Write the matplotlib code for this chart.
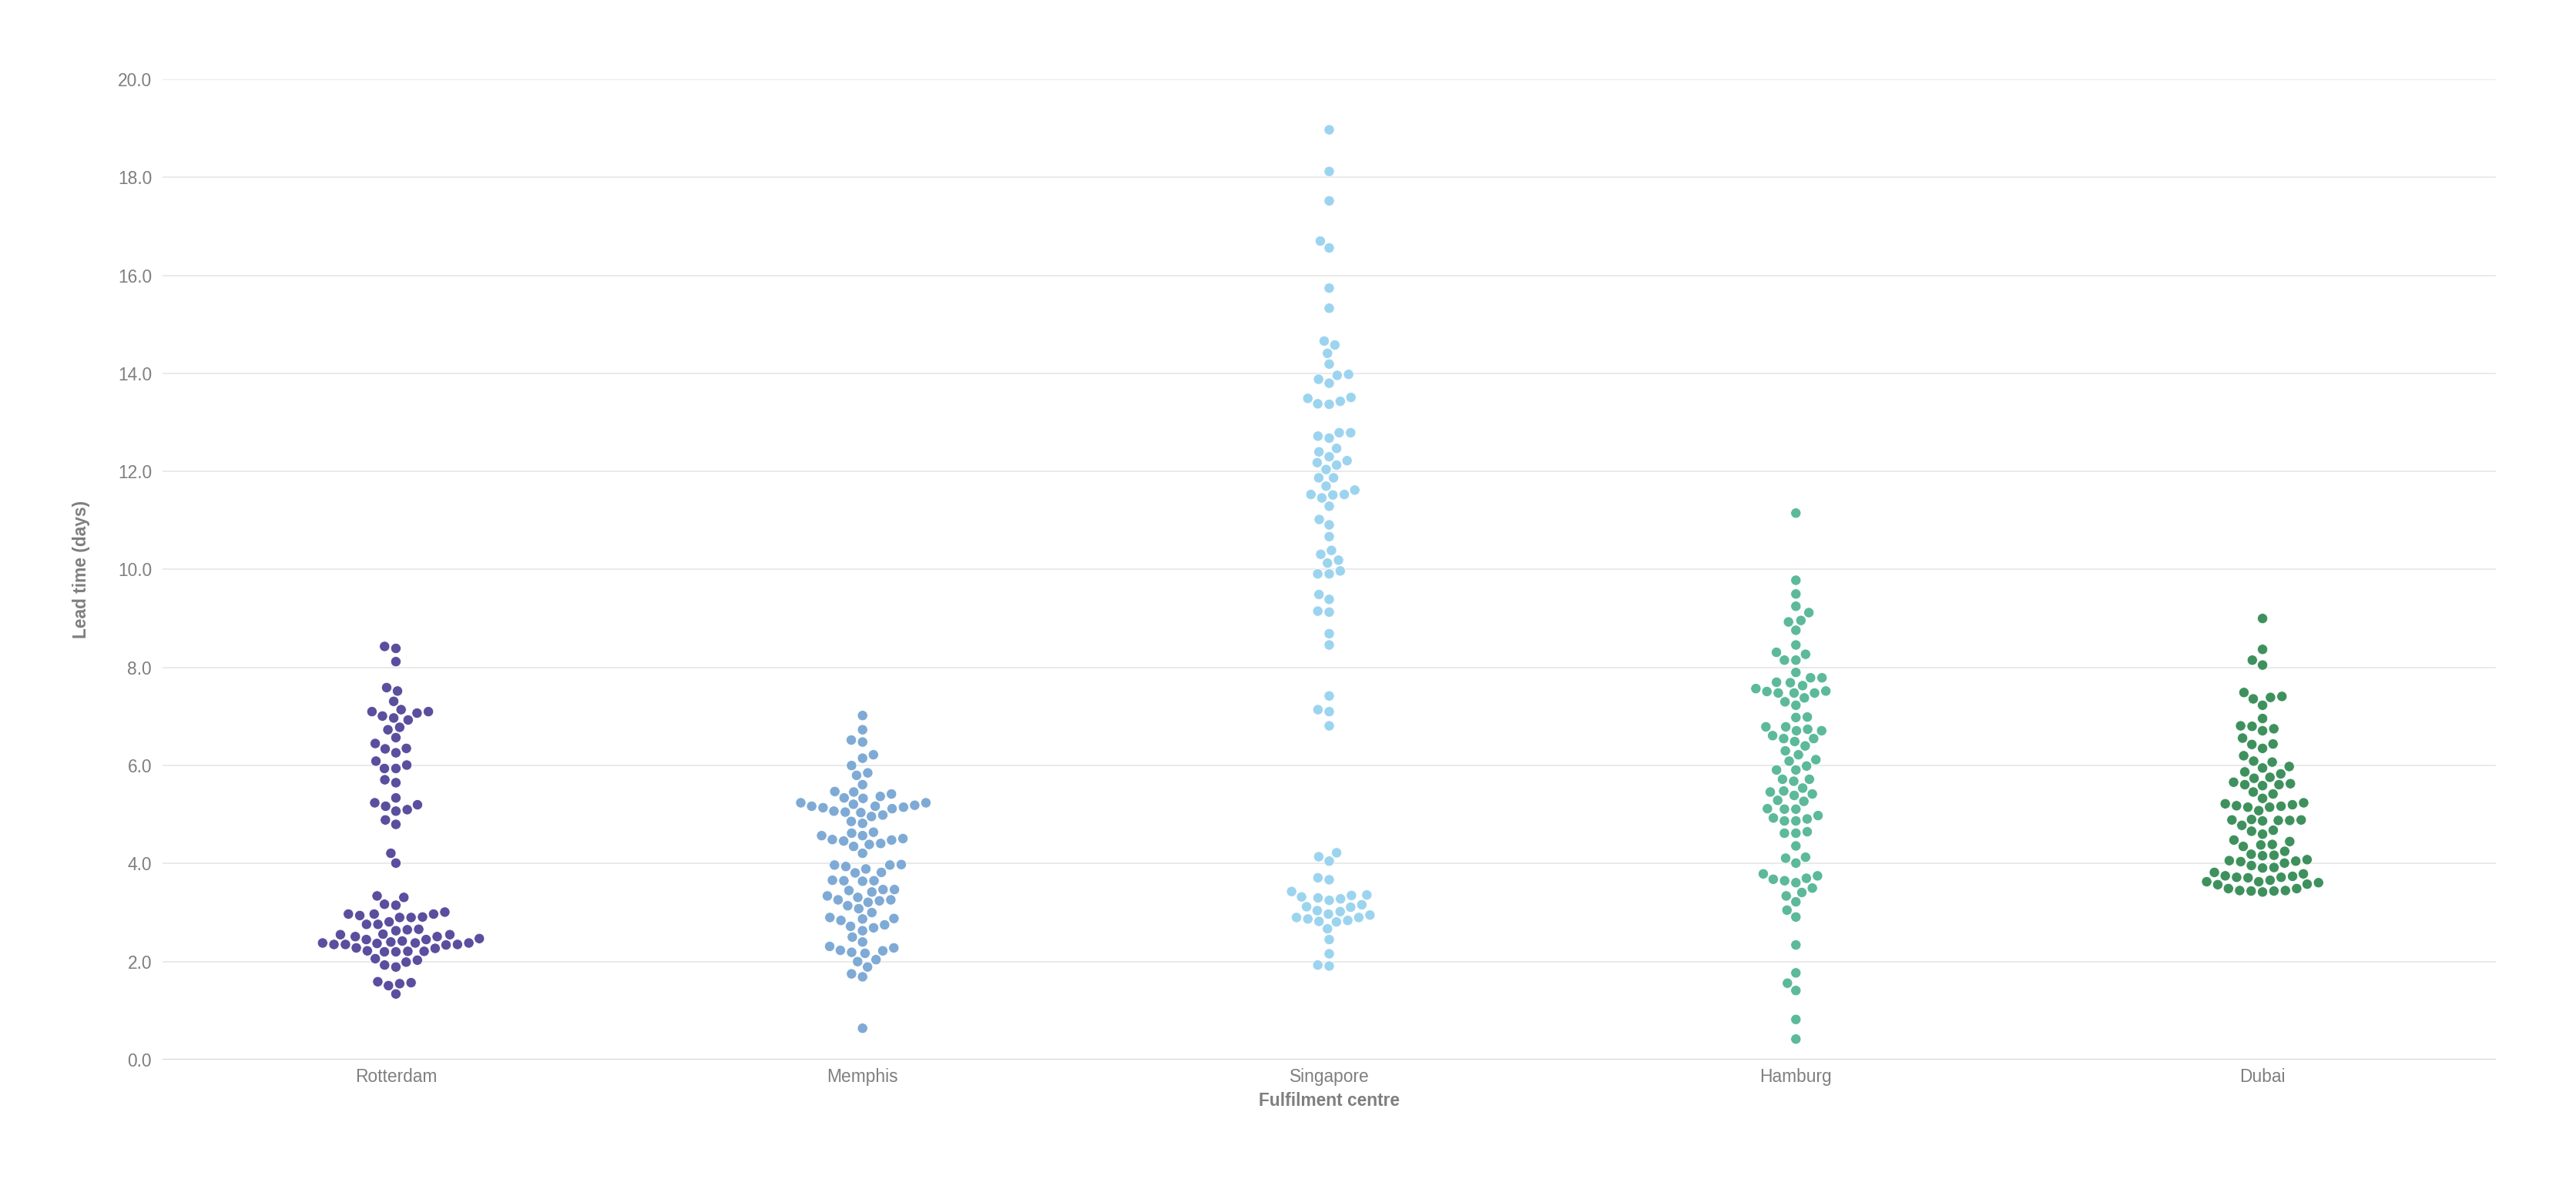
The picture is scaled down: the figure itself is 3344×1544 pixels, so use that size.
import matplotlib
matplotlib.use('Agg')
import matplotlib.pyplot as plt
import pandas as pd
import seaborn as sns

# Lead time per order
centres = ['Rotterdam', 'Memphis', 'Singapore', 'Hamburg', 'Dubai']
colors = ['#5a4e9e', '#7eaad5', '#9cd4ef', '#5cb99a', '#3e915d']

rotterdam = [8.43, 8.39, 8.12, 7.59, 7.52, 7.31, 7.01, 7.10, 7.10, 7.14, 7.07, 6.97,
             6.93, 6.78, 6.73, 6.57, 6.45, 6.34, 6.35, 6.26, 6.09, 6.01, 5.94, 5.94,
             5.71, 5.65, 5.34, 5.24, 5.17, 5.20, 5.10, 5.07, 4.89, 4.80, 4.21, 4.01,
             3.34, 3.31, 3.15, 3.17, 2.81, 2.90, 2.94, 2.97, 3.01, 2.97, 2.97, 2.91,
             2.90, 2.76, 2.76, 2.65, 2.66, 2.63, 2.56, 2.51, 2.55, 2.55, 2.51, 2.45,
             2.38, 2.37, 2.35, 2.35, 2.35, 2.38, 2.40, 2.47, 2.42, 2.45, 2.38, 2.34,
             2.27, 2.20, 2.21, 2.28, 2.21, 2.22, 2.20, 2.06, 2.03, 1.99, 1.93, 1.89,
             1.55, 1.59, 1.57, 1.51, 1.34]

memphis = [7.02, 6.73, 6.48, 6.52, 6.22, 6.15, 6.00, 5.80, 5.85, 5.61, 5.46, 5.42,
           5.47, 5.33, 5.37, 5.34, 5.24, 5.24, 5.21, 5.19, 5.15, 5.14, 5.17, 5.17,
           5.07, 5.12, 5.05, 5.04, 4.99, 4.96, 4.86, 4.82, 4.62, 4.64, 4.57, 4.57,
           4.51, 4.49, 4.48, 4.46, 4.39, 4.41, 4.35, 4.21, 3.98, 3.97, 3.97, 3.94,
           3.89, 3.81, 3.82, 3.66, 3.65, 3.65, 3.64, 3.47, 3.47, 3.45, 3.42, 3.34,
           3.31, 3.26, 3.26, 3.24, 3.21, 3.14, 3.08, 3.00, 2.90, 2.88, 2.87, 2.84,
           2.75, 2.72, 2.69, 2.63, 2.50, 2.40, 2.31, 2.28, 2.23, 2.22, 2.19, 2.17,
           2.04, 2.00, 1.89, 1.75, 1.69, 0.64]

singapore = [18.97, 18.12, 17.52, 16.70, 16.56, 15.74, 15.33, 14.66, 14.58, 14.41,
             14.19, 13.98, 13.96, 13.88, 13.80, 13.51, 13.49, 13.43, 13.38, 13.37,
             12.79, 12.79, 12.72, 12.68, 12.47, 12.40, 12.30, 12.22, 12.18, 12.13,
             12.04, 11.87, 11.87, 11.70, 11.62, 11.53, 11.52, 11.53, 11.46, 11.29,
             11.02, 10.91, 10.67, 10.39, 10.31, 10.19, 10.13, 9.97, 9.91, 9.91,
             9.49, 9.39, 9.15, 9.13, 8.69, 8.46, 7.42, 7.14, 7.10, 6.81,
             4.22, 4.14, 4.05, 3.71, 3.67, 3.43, 3.36, 3.35, 3.32, 3.28,
             3.30, 3.25, 3.16, 3.12, 3.11, 3.04, 3.02, 2.97, 2.95, 2.87,
             2.84, 2.90, 2.90, 2.82, 2.81, 2.67, 2.45, 2.16, 1.93, 1.91]

hamburg = [11.15, 9.78, 9.50, 9.25, 9.12, 8.96, 8.93, 8.76, 8.46, 8.31, 8.27, 8.15,
           8.15, 7.90, 7.79, 7.79, 7.70, 7.69, 7.57, 7.48, 7.48, 7.48, 7.63, 7.52,
           7.51, 7.38, 7.30, 7.23, 6.99, 6.98, 6.79, 6.79, 6.74, 6.71, 6.71, 6.61,
           6.55, 6.55, 6.49, 6.40, 6.30, 6.22, 6.12, 6.09, 5.99, 5.91, 5.91, 5.72,
           5.68, 5.72, 5.54, 5.48, 5.46, 5.42, 5.39, 5.29, 5.27, 5.11, 5.12, 5.11,
           4.98, 4.93, 4.91, 4.87, 4.87, 4.62, 4.65, 4.62, 4.36, 4.13, 4.11, 4.01,
           3.79, 3.75, 3.70, 3.68, 3.65, 3.61, 3.50, 3.41, 3.34, 3.22, 3.05, 2.91,
           2.34, 1.77, 1.56, 1.41, 0.82, 0.42]

dubai = [9.00, 8.37, 8.15, 8.05, 7.49, 7.41, 7.39, 7.36, 7.23, 6.96, 6.81, 6.80,
         6.75, 6.71, 6.56, 6.44, 6.43, 6.35, 6.20, 6.09, 6.07, 5.98, 5.95, 5.87,
         5.83, 5.76, 5.74, 5.66, 5.63, 5.59, 5.61, 5.61, 5.46, 5.42, 5.33, 5.24,
         5.22, 5.20, 5.18, 5.17, 5.15, 5.15, 5.08, 4.90, 4.89, 4.89, 4.88, 4.88,
         4.87, 4.78, 4.68, 4.66, 4.60, 4.48, 4.45, 4.38, 4.35, 4.39, 4.25, 4.19,
         4.16, 4.17, 4.08, 4.06, 4.05, 4.04, 4.01, 3.96, 3.92, 3.91, 3.82, 3.79,
         3.75, 3.74, 3.72, 3.72, 3.71, 3.63, 3.63, 3.66, 3.61, 3.58, 3.57, 3.49,
         3.49, 3.45, 3.44, 3.45, 3.44, 3.42]

yticks = [0, 2, 4, 6, 8, 10, 12, 14, 16, 18, 20]

# long-form table for seaborn
series = [rotterdam, memphis, singapore, hamburg, dubai]
rows = []
for name, vals in zip(centres, series):
    for v in vals:
        rows.append({'centre': name, 'lead': v})
df = pd.DataFrame(rows)

plt.rcParams['font.family'] = ['Liberation Sans', 'DejaVu Sans']

fig = plt.figure(figsize=(16.72, 7.72), dpi=200)
ax = fig.add_axes([0.0631, 0.1088, 0.9058, 0.8245])

# thin white edge keeps a small gap between neighbouring dots
sns.swarmplot(data=df, x='centre', y='lead', hue='centre', order=centres,
              hue_order=centres, palette=colors, size=4.8, linewidth=0.3,
              edgecolor='white', legend=False, ax=ax, zorder=3)

ax.set_xlim(-0.5, 4.5)
ax.set_ylim(0, 20)
ax.set_yticks(yticks)
ax.set_yticklabels([f'{t:.1f}' for t in yticks])

ax.grid(axis='y', color='#e6e6e6', linewidth=0.6, zorder=0)
ax.set_axisbelow(True)
for s in ax.spines.values():
    s.set_visible(False)
ax.axhline(0, color='#d3d3d3', linewidth=0.8, zorder=1)

ax.tick_params(axis='both', length=0, labelsize=8.2, labelcolor='#7f7f7f')
ax.tick_params(axis='y', pad=5)
ax.tick_params(axis='x', pad=4)

ax.set_xlabel('Fulfilment centre', fontsize=8.2, fontweight='bold',
              color='#7f7f7f', labelpad=3)
ax.set_ylabel('Lead time (days)', fontsize=8.2, fontweight='bold', color='#7f7f7f')
ax.yaxis.set_label_coords(-0.031, 0.5)

fig.savefig('out.png', dpi=200, facecolor='white')
